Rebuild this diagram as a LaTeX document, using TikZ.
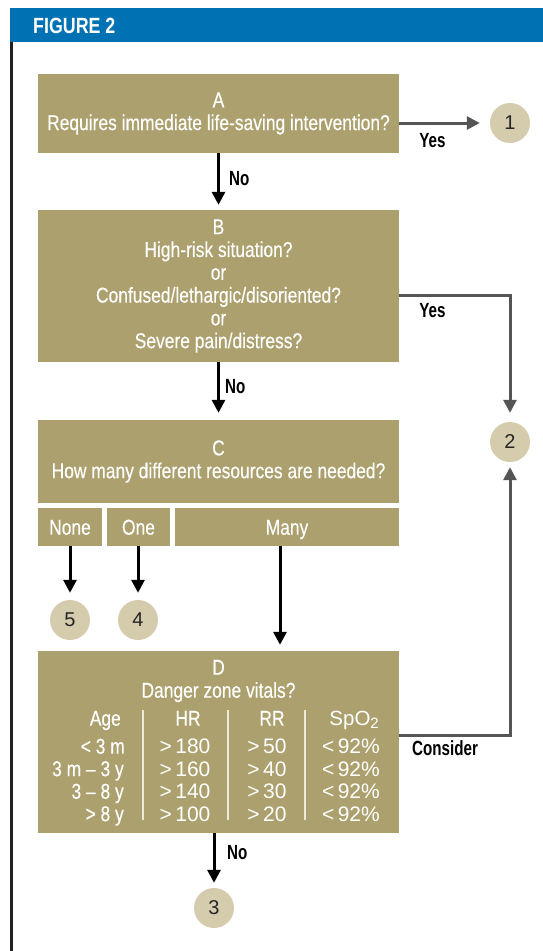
\documentclass[tikz,border=0pt]{standalone}
\usepackage{fontspec}
\setmainfont{Liberation Sans}
\newfontfamily\cond{Liberation Sans}[FakeStretch=0.81,FakeBold=0.3]
\newfontfamily\condh{Liberation Sans}[FakeStretch=0.81]
\newfontfamily\condn{Liberation Sans}[FakeStretch=0.74]
\usetikzlibrary{arrows.meta}
\definecolor{boxolive}{HTML}{ACA16E}
\definecolor{circtan}{HTML}{D5CCAE}
\definecolor{figblue}{HTML}{0072B4}
\definecolor{greyline}{HTML}{555555}
\definecolor{divcream}{HTML}{EEEAD8}
\definecolor{frameline}{HTML}{231F20}
\begin{document}
\begin{tikzpicture}[x=1pt,y=-1pt,
  box/.style={fill=boxolive, text=white, font=\cond\fontsize{21.5}{22.8}\selectfont,
    align=center, inner sep=0pt, minimum width=361pt},
  subbox/.style={fill=boxolive, text=white, font=\cond\fontsize{21.5}{22.8}\selectfont,
    inner sep=0pt, minimum height=38pt, text height=15.4pt, text depth=0pt},
  circ/.style={circle, fill=circtan, minimum size=40pt, inner sep=0pt,
    text=black!85, font=\fontsize{20}{20}\selectfont},
  arr/.style={line width=3pt, -{Triangle[length=13pt,width=13pt]}},
  garr/.style={arr, draw=greyline},
  lab/.style={font=\condn\bfseries\fontsize{20.5}{20.5}\selectfont, inner sep=0pt,
    text height=14.7pt, text depth=0pt},
  dtxt/.style={text=white, font=\cond\fontsize{21.5}{21.5}\selectfont, inner sep=0pt,
    text height=15.4pt, text depth=0pt},
  num/.style={text=white, font=\fontsize{21}{21}\selectfont, inner sep=0pt,
    text height=15pt, text depth=0pt},
  divider/.style={draw=divcream, line width=1.5pt}]
\useasboundingbox (0,0) rectangle (543,951);
\fill[white] (0,0) rectangle (543,951);
% frame and header
\fill[figblue] (10,7.7) rectangle (543,42.3);
\fill[frameline] (9.5,42.3) rectangle (12.8,951);
\node[anchor=west, text=white, font=\condh\bfseries\fontsize{22}{22}\selectfont,
  inner sep=0pt, text height=15.8pt, text depth=0pt] (fig) at (33,25.5) {FIGURE 2};
% boxes
\node[box, minimum height=79pt] (A) at (218.5,113.5)
  {A\\Requires immediate life-saving intervention?};
\node[box, minimum height=152pt] (B) at (218.5,286)
  {B\\High-risk situation?\\or\\Confused/lethargic/disoriented?\\or\\Severe pain/distress?};
\node[box, minimum height=83pt] (C) at (218.5,461.5)
  {C\\How many different resources are needed?};
\node[subbox, minimum width=64pt] (None) at (70,527) {None};
\node[subbox, minimum width=63pt] (One) at (138.5,527) {One};
\node[subbox, minimum width=224pt] (Many) at (287,527) {Many};
\node[box, minimum height=182pt] (D) at (218.5,742) {};
% circles
\node[circ] (c1) at (510,123) {1};
\node[circ] (c2) at (510,442) {2};
\node[circ] (c5) at (70,620) {5};
\node[circ] (c4) at (138,620) {4};
\node[circ] (c3) at (214,908) {3};
% D contents
\node[dtxt] (Dl) at (218.5,667) {D};
\node[dtxt] (Dq) at (218.5,690) {Danger zone vitals?};
\node[dtxt, anchor=east] (hAge) at (121,718) {Age};
\node[dtxt] (hHR) at (188,718) {HR};
\node[dtxt] (hRR) at (272,718) {RR};
\node[num, anchor=east, font=\fontsize{20.5}{20.5}\selectfont] (hSp) at (379,718)
  {SpO\raisebox{-0.3ex}{\fontsize{15}{15}\selectfont 2}};
\node[dtxt, anchor=east] (a1) at (125,746) {< 3 m};
\node[dtxt, anchor=east] (a2) at (124,768.5) {3 m – 3 y};
\node[dtxt, anchor=east] (a3) at (124,791) {3 – 8 y};
\node[dtxt, anchor=east] (a4) at (124,813.5) {> 8 y};
\node[num] (h1) at (185,746) {>\,180};
\node[num] (h2) at (185,768.5) {>\,160};
\node[num] (h3) at (185,791) {>\,140};
\node[num] (h4) at (185,813.5) {>\,100};
\node[num] (r1) at (267,746) {>\,50};
\node[num] (r2) at (267,768.5) {>\,40};
\node[num] (r3) at (267,791) {>\,30};
\node[num] (r4) at (267,813.5) {>\,20};
\node[num, anchor=east] (s1) at (380,746) {<\,92\%};
\node[num, anchor=east] (s2) at (380,768.5) {<\,92\%};
\node[num, anchor=east] (s3) at (380,791) {<\,92\%};
\node[num, anchor=east] (s4) at (380,813.5) {<\,92\%};
\draw[divider] (143,710) -- (143,820);
\draw[divider] (228,710) -- (228,820);
\draw[divider] (305,710) -- (305,820);
% connectors
\draw[garr, shorten >=10pt] (A.east |- c1) -- (c1.west);
\node[lab] (yesA) at (432.5,140) {Yes};
\draw[arr, shorten >=5pt] (A.south) -- (B.north);
\node[lab, anchor=west] (noA) at (229,178) {No};
\path (B.east) ++(0,9) coordinate (byes);
\draw[garr, shorten >=9pt] (byes) -| (c2.north);
\node[lab] (yesB) at (432.5,310) {Yes};
\draw[arr, shorten >=7pt] (B.south) -- (C.north);
\node[lab, anchor=west] (noB) at (225,386) {No};
\draw[arr, shorten >=7pt] (None.south) -- (c5.north);
\draw[arr, shorten >=7pt] (One.south -| c4) -- (c4.north);
\draw[arr, shorten >=6pt] ([xshift=-7pt]Many.south) -- ([xshift=-7pt]Many.south |- D.north);
\path (D.east) ++(0,-7) coordinate (dcons);
\draw[garr, shorten >=5pt] (dcons) -| (c2.south);
\node[lab, anchor=west] (cons) at (412,748) {Consider};
\draw[arr, shorten >=5pt] (D.south -| c3) -- (c3.north);
\node[lab, anchor=west] (noD) at (227,852) {No};
\end{tikzpicture}
\end{document}
